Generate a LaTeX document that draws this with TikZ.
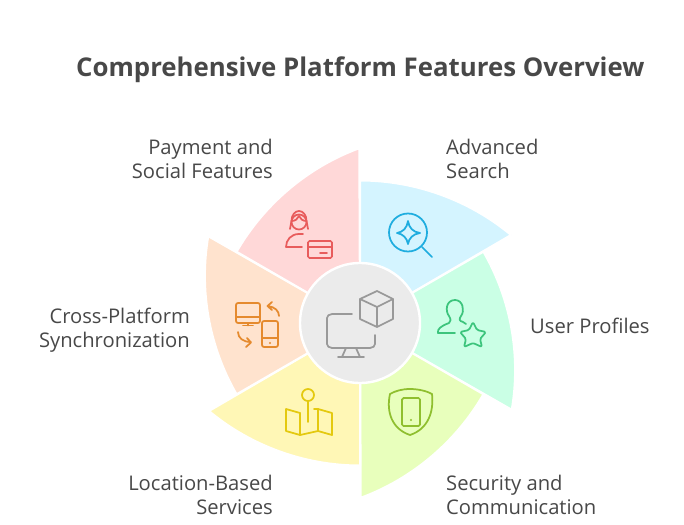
\documentclass[tikz,border=0pt]{standalone}
\usepackage{fontspec}
\setmainfont{Open Sans}
\definecolor{ctext}{HTML}{484848}
\definecolor{cblue}{HTML}{D4F4FF}
\definecolor{cmint}{HTML}{CAFFE5}
\definecolor{clime}{HTML}{E8FFBC}
\definecolor{cyell}{HTML}{FFF7B6}
\definecolor{coran}{HTML}{FFE3CE}
\definecolor{cpink}{HTML}{FFD8D8}
\definecolor{cgrey}{HTML}{EBEBEB}
\definecolor{iblue}{HTML}{1FADDF}
\definecolor{imint}{HTML}{3CC47C}
\definecolor{ilime}{HTML}{8FBF2F}
\definecolor{iyell}{HTML}{E4C90F}
\definecolor{ioran}{HTML}{E58A2E}
\definecolor{ipink}{HTML}{E85C5C}
\definecolor{igrey}{HTML}{999999}
\tikzset{
 x=1pt,y=-1pt,
 petal/.style={fill=#1,draw=white,line width=2pt,line join=miter},
 hub/.style={circle,fill=cgrey,draw=white,line width=2.4pt,minimum size=120pt,inner sep=0pt},
 label/.style={text=ctext,font=\fontsize{20.2}{24}\selectfont,align=#1,inner sep=0pt},
 heading/.style={text=ctext,font=\fontsize{25.8}{30}\selectfont\bfseries,inner sep=0pt},
 ico/.style={draw=#1,line width=1.75pt,line cap=round,line join=round,fill=none},
}
\begin{document}
\begin{tikzpicture}
\useasboundingbox[fill=white] (0,0) rectangle (684,524);
\coordinate (c) at (360,323);
\foreach \r/\col in {0/cblue,-60/cmint,-120/clime,-180/cyell,-240/coran,-300/cpink}{
 \path[petal=\col,shift={(c)},rotate=\r]
   (0,0) -- (151,-88) .. controls (109,-123) and (55,-142.5) .. (0,-142.5) -- cycle;
}
\node[hub] (hub) at (c) {};
\node[heading,anchor=base west] (title) at (76,77) {Comprehensive Platform Features Overview};
\node[label=right,anchor=north east] (pay) at (273,139) {Payment and\\Social Features};
\node[label=left,anchor=north west] (adv) at (446,139) {Advanced\\Search};
\node[label=left,anchor=base west] (usr) at (530,333) {User Profiles};
\node[label=right,anchor=north east] (sync) at (190,308) {Cross-Platform\\Synchronization};
\node[label=right,anchor=north east] (loc) at (273,475) {Location-Based\\Services};
\node[label=left,anchor=north west] (sec) at (446,475) {Security and\\Communication};
% hub icon
\draw[ico=igrey] (352,314) -- (332,314) .. controls (329,314) and (327,316) .. (327,318) -- (327,344) .. controls (327,346) and (329,348) .. (332,348) -- (370,348) .. controls (373,348) and (375,346) .. (375,344) -- (375,335);
\draw[ico=igrey] (338,357) -- (364,357) (342,357) -- (346,348) (360,357) -- (356,348);
\draw[ico=igrey] (377,291) -- (393,299) -- (393,319) -- (377,327) -- (360,319) -- (360,299) -- cycle (360,299) -- (377,307) -- (393,299) (377,307) -- (377,327);
% search
\draw[ico=iblue] (408,232.5) circle[radius=19];
\draw[ico=iblue] (422,247) -- (432,257);
\draw[ico=iblue] (408,221) .. controls (409,228) and (413,232) .. (420,233) .. controls (413,234) and (409,238) .. (408,244) .. controls (407,238) and (403,234) .. (397,233) .. controls (403,232) and (407,228) .. (408,221) -- cycle;
% user star
\draw[ico=imint] (455,333) -- (438,333) .. controls (437,329) and (441,326) .. (449,323) .. controls (451,322) and (451,319) .. (449,316) .. controls (445,311) and (446,300) .. (455,300) .. controls (463,300) and (465,311) .. (461,316) .. controls (459,319) and (459,321) .. (463,322) -- (466,324);
\draw[ico=imint,rounded corners=1.5pt] (473,322) -- (477,330) -- (486,332) -- (480,339) -- (482,347) -- (473,343) -- (464,347) -- (466,339) -- (460,332) -- (469,330) -- cycle;
% shield
\draw[ico=ilime] (410,389) .. controls (418,389) and (427,391) .. (432,394) .. controls (434,412) and (428,429) .. (410,435) .. controls (392,429) and (386,412) .. (390,394) .. controls (395,391) and (402,389) .. (410,389) -- cycle;
\draw[ico=ilime,rounded corners=1.5pt] (402,398) rectangle (420,426);
\fill[ilime] (411,420) circle[radius=1.2];
% map
\draw[ico=iyell] (308,395) circle[radius=6];
\draw[ico=iyell] (308,401) -- (308,422);
\draw[ico=iyell] (300,413) -- (286,409) -- (286,431) -- (300,435) -- (318,431) -- (332,435) -- (332,413) -- (318,409) -- (314,409);
\draw[ico=iyell] (300,413) -- (300,435) (318,409) -- (318,431);
% devices
\draw[ico=ioran,rounded corners=2pt] (236,303) rectangle (260,323);
\draw[ico=ioran] (236,317) -- (260,317) (248,323) -- (248,325.5) (243,325.5) -- (253,325.5);
\draw[ico=ioran,rounded corners=2pt] (262,321) rectangle (278,347);
\draw[ico=ioran] (262,338) -- (278,338);
\fill[ioran] (270,343) circle[radius=1.2];
\draw[ico=ioran] (279,316) .. controls (279,311) and (275,307) .. (268,306) (272,302) -- (267.5,306) -- (272,310);
\draw[ico=ioran] (238,332) .. controls (238,338) and (243,342) .. (251,342) (246,347) -- (251,342.5) -- (247,338);
% person card
\draw[ico=ipink] (299,222) circle[radius=7.5];
\draw[ico=ipink] (290,229) -- (291.5,221) .. controls (291.5,215) and (295,211) .. (299,211) .. controls (303,211) and (306.5,215) .. (306.5,221) -- (308,229);
\draw[ico=ipink] (291.5,221) .. controls (295,221) and (298,219) .. (299,216) .. controls (300,219) and (303,221) .. (306.5,221);
\draw[ico=ipink] (302,247) -- (286,247) .. controls (286,240) and (291,234) .. (299,234) -- (303,234);
\draw[ico=ipink,rounded corners=1.5pt] (308,241) rectangle (332,258);
\draw[ico=ipink] (308,247) -- (332,247) (320,253) -- (327,253);
\end{tikzpicture}
\end{document}
